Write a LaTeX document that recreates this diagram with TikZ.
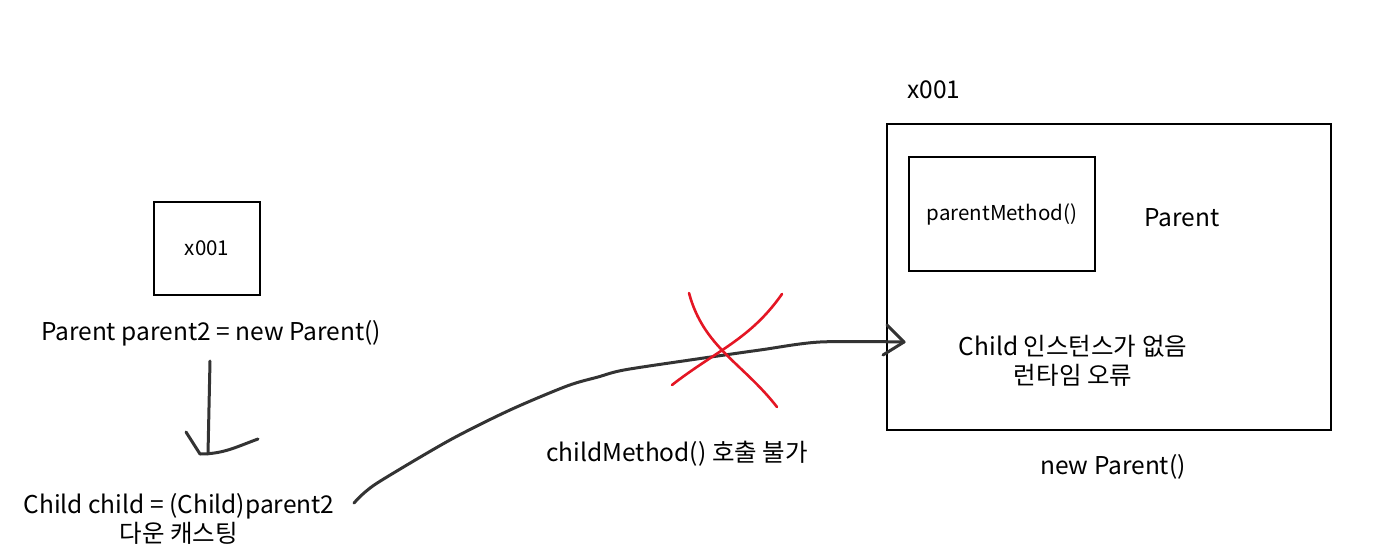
\documentclass[tikz,border=0pt]{standalone}
\usepackage{fontspec}
\setmainfont{Noto Sans CJK KR}
\usetikzlibrary{positioning,calc}
\definecolor{markred}{RGB}{228,22,36}

\begin{document}
\begin{tikzpicture}[
  x=1pt,y=-1pt,
  font=\fontsize{24.5}{28}\selectfont,
  box/.style={draw=black,line width=1.6pt,inner sep=0pt},
  pen/.style={line width=3pt,draw=black!80,line cap=round,line join=round},
  redpen/.style={line width=2.6pt,draw=markred,line cap=round},
  lbl/.style={inner sep=1pt},
  sml/.style={font=\fontsize{20.5}{24}\selectfont,inner sep=1pt}
]
\useasboundingbox (0,0) rectangle (1380,557);

% ---- left: reference variable ----
\node[box,minimum width=106pt,minimum height=93pt] (ref) at (207,248.5) {};
\node[sml] (refaddr) at (ref.center) {x001};
\node[lbl] (decl) at (211,333) {Parent parent2 = new Parent()};
\node[lbl,align=center] (cast) at (179,519)
  {Child child = (Child)parent2\\[1pt]다운 캐스팅};

% ---- down cast arrow ----
\coordinate (dtop) at (210,361);
\coordinate (dbot) at (208,454);
\draw[pen] (dtop) -- (dbot);
\draw[pen] (186,432) -- (200,454) to[out=0,in=200] (258,439);

% ---- right: the instance in memory ----
\node[box,minimum width=444pt,minimum height=306pt] (heap) at (1109,277) {};
\node[lbl,anchor=south west] (heapaddr) at (906,100) {x001};
\node[box,minimum width=186pt,minimum height=114pt] (pm) at (1002,214) {};
\node[sml] (pmtxt) at (pm.center) {parentMethod()};
\node[lbl] (ptype) at (1182,218) {Parent};
\node[lbl,align=center] (err) at (1073,361) {Child 인스턴스가 없음\\[1pt]런타임 오류};
\node[lbl] (newp) at (1113,467) {new Parent()};

% ---- call attempt ----
\coordinate (cstart) at (354,503);
\coordinate (cend) at (904,342);
\draw[pen] plot[smooth,tension=0.5] coordinates {(cstart) (364,493) (382,480)
  (450,440) (510,410) (567,386) (598,377) (624,370) (690,360) (760,350)
  (820,342) (cend)};
\draw[pen] (887,325) -- (cend) -- (883,355);
\node[lbl] (nocall) at (677,454) {childMethod() 호출 불가};

% ---- cross out ----
\draw[redpen] (689,293) to[out=-75,in=128] (777,407);
\draw[redpen] (782,294) to[out=-125,in=38] (672,385);

\end{tikzpicture}
\end{document}
